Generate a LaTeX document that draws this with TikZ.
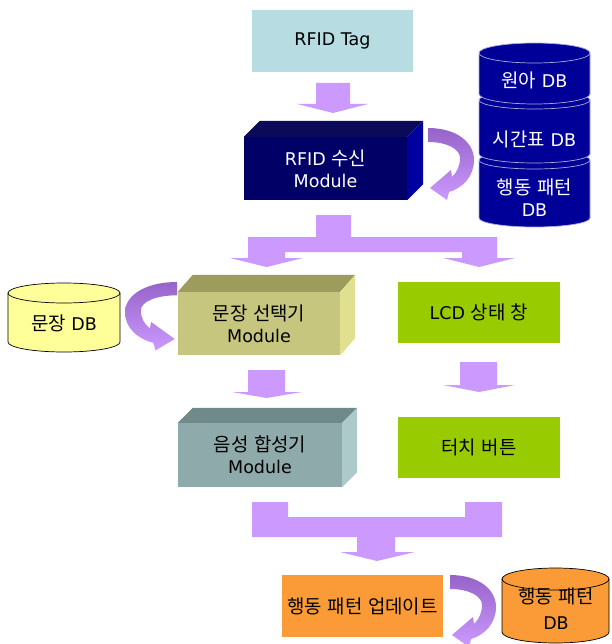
\documentclass[tikz,border=0pt]{standalone}
\usepackage{fontspec}
\setmainfont{DejaVu Sans}
\newfontfamily\kr[Scale=1.08]{Noto Sans CJK KR}
\newcommand\K[1]{{\kr #1}}
\definecolor{tagc}{RGB}{183,221,226}
\definecolor{plight}{RGB}{204,153,255}
\definecolor{pdark}{RGB}{150,100,200}
\definecolor{rfidfront}{RGB}{0,0,102}
\definecolor{rfidtop}{RGB}{10,10,88}
\definecolor{rfidside}{RGB}{0,0,160}
\definecolor{dbnavy}{RGB}{0,0,153}
\definecolor{dbline}{RGB}{170,170,220}
\definecolor{yel}{RGB}{255,255,153}
\definecolor{selfront}{RGB}{198,198,126}
\definecolor{seltop}{RGB}{156,156,92}
\definecolor{selside}{RGB}{224,224,144}
\definecolor{ttsfront}{RGB}{143,170,170}
\definecolor{ttstop}{RGB}{112,138,138}
\definecolor{ttsside}{RGB}{172,202,202}
\definecolor{lcdc}{RGB}{153,204,0}
\definecolor{orangec}{RGB}{250,155,55}
\newcommand\mycyl[7]{%
  \filldraw[fill=#6,draw=#7,line width=0.7pt] ({#1-#4},#2) -- ({#1-#4},#3)
    arc[start angle=180,end angle=360,x radius=#4pt,y radius=#5pt] -- ({#1+#4},#2)
    arc[start angle=0,end angle=180,x radius=#4pt,y radius=#5pt] -- cycle;
  \draw[draw=#7,line width=0.7pt] ({#1-#4},#2)
    arc[start angle=180,end angle=360,x radius=#4pt,y radius=#5pt];}
\newcommand\curvarrow[1]{%
  \shade[top color=pdark, bottom color=plight, #1] (0,0)
    .. controls (28,0) and (46,14) .. (46,32)
    .. controls (46,48) and (35,60) .. (21,64)
    -- (19,72) -- (2,60) -- (23,42) -- (24,49)
    .. controls (29,44) and (32,38) .. (32,30)
    .. controls (32,21) and (19,14) .. (0,14) -- cycle;}
\tikzset{
  lbl/.style={font=\fontsize{17.5}{22}\selectfont, align=center, inner sep=0pt},
  boxn/.style={lbl, text=black, draw=none},
  barrow/.style={fill=plight}
}
\begin{document}
\begin{tikzpicture}[x=1pt,y=-1pt]
\fill[white] (0,0) rectangle (611,644);
\clip (0,0) rectangle (611,644);

% RFID Tag
\node[boxn, fill=tagc, minimum width=161pt, minimum height=62pt] (tag) at (332.5,41) {RFID Tag};
\fill[barrow] (316,83) -- (350,83) -- (350,104) -- (368,104) -- (333,113) -- (297,104) -- (316,104) -- cycle;

% RFID module
\node[boxn, fill=rfidfront, text=white, minimum width=163pt, minimum height=63pt] (rfid) at (325.5,168.5) {RFID \K{수신}\\Module};
\fill[rfidtop] (rfid.north west) -- ++(16,-16) -- ([shift={(16,-16)}]rfid.north east) -- (rfid.north east) -- cycle;
\fill[rfidside] (rfid.north east) -- ++(16,-16) -- ([shift={(16,-16)}]rfid.south east) -- (rfid.south east) -- cycle;
\curvarrow{shift={(428,128)}}

% DB stack
\mycyl{534.5}{160}{218}{55.5}{9}{dbnavy}{dbline}
\mycyl{534.5}{100}{154}{55.5}{9}{dbnavy}{dbline}
\mycyl{534.5}{53}{94}{55.5}{10}{dbnavy}{dbline}
\node[lbl, text=white] (db1) at (534.5,80) {\K{원아} DB};
\node[lbl, text=white] (db2) at (534.5,139) {\K{시간표} DB};
\node[lbl, text=white, font=\fontsize{17.5}{21.5}\selectfont] (db3) at (534.5,197.5) {\K{행동} \K{패턴}\\DB};

% split arrow
\fill[barrow] (316,215) -- (351,215) -- (351,237) -- (497,237) -- (497,258) -- (515,258) -- (479,267) -- (443,258) -- (462,258) -- (462,252) -- (285,252) -- (285,258) -- (303,258) -- (266.5,267) -- (230,258) -- (248,258) -- (248,237) -- (316,237) -- cycle;

% sentence DB
\mycyl{64}{293}{342}{56}{10}{yel}{black}
\node[lbl] (sdb) at (64,323) {\K{문장} DB};

% sentence selector module
\node[boxn, fill=selfront, minimum width=162pt, minimum height=63pt] (sel) at (259,323.5) {\K{문장} \K{선택기}\\Module};
\fill[seltop] (sel.north west) -- ++(15,-17) -- ([shift={(15,-17)}]sel.north east) -- (sel.north east) -- cycle;
\fill[selside] (sel.north east) -- ++(15,-17) -- ([shift={(15,-17)}]sel.south east) -- (sel.south east) -- cycle;
\curvarrow{shift={(177,282)},xscale=-1.13,yscale=0.95}

% LCD
\node[boxn, fill=lcdc, minimum width=162pt, minimum height=61pt] (lcd) at (479,312.5) {LCD \K{상태} \K{창}};

% arrows down
\fill[barrow] (248,370) -- (285,370) -- (285,392) -- (302,392) -- (266.5,398) -- (232,392) -- (248,392) -- cycle;
\fill[barrow] (460,362) -- (497,362) -- (497,385) -- (515,385) -- (479,392) -- (443,385) -- (460,385) -- cycle;

% TTS module
\node[boxn, fill=ttsfront, minimum width=164pt, minimum height=64pt] (tts) at (260,455) {\K{음성} \K{합성기}\\Module};
\fill[ttstop] (tts.north west) -- ++(15,-15) -- ([shift={(15,-15)}]tts.north east) -- (tts.north east) -- cycle;
\fill[ttsside] (tts.north east) -- ++(15,-15) -- ([shift={(15,-15)}]tts.south east) -- (tts.south east) -- cycle;

% touch button
\node[boxn, fill=lcdc, minimum width=162pt, minimum height=61pt] (touch) at (479,447.5) {\K{터치} \K{버튼}};

% merge arrow
\fill[barrow] (252,502) -- (288,502) -- (288,517) -- (465,517) -- (465,502) -- (502,502) -- (502,537) -- (395,537) -- (395,552) -- (415,552) -- (377,561) -- (340,552) -- (357,552) -- (357,537) -- (252,537) -- cycle;

% update
\node[boxn, fill=orangec, minimum width=161pt, minimum height=62pt] (upd) at (362.5,606) {\K{행동} \K{패턴} \K{업데이트}};
\curvarrow{shift={(450,575)}}

% behaviour pattern DB
\mycyl{555.5}{579}{632}{53.5}{11}{orangec}{black}
\node[lbl] (bdb) at (556,608.5) {\K{행동} \K{패턴}\\[4pt]DB};
\end{tikzpicture}
\end{document}
